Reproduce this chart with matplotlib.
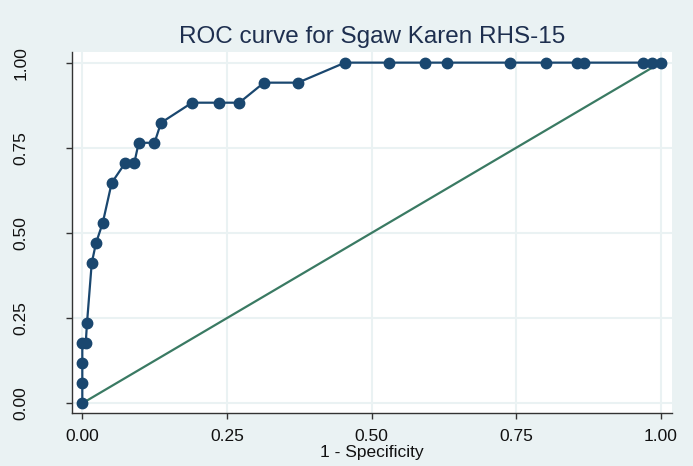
import matplotlib.pyplot as plt

# ROC points (17 positives -> steps of 1/17 in sensitivity)
fpr = [0.0, 0.0, 0.0, 0.0, 0.0059, 0.0081, 0.0163, 0.0237, 0.0353, 0.0508,
       0.0743, 0.0899, 0.0975, 0.1248, 0.1361, 0.1897, 0.2369, 0.2714, 0.3141,
       0.3729, 0.4542, 0.5308, 0.5925, 0.6309, 0.7395, 0.8017, 0.8558, 0.8669,
       0.9689, 0.9844, 1.0]
tpr = [0.0, 0.0588, 0.1176, 0.1765, 0.1765, 0.2353, 0.4118, 0.4706, 0.5294,
       0.6471, 0.7059, 0.7059, 0.7647, 0.7647, 0.8235, 0.8824, 0.8824, 0.8824,
       0.9412, 0.9412, 1.0, 1.0, 1.0, 1.0, 1.0, 1.0, 1.0, 1.0, 1.0, 1.0, 1.0]
ref_x = [0.0, 1.0]
ref_y = [0.0, 1.0]
ticks = [0.0, 0.25, 0.5, 0.75, 1.0]
tick_labels = ['0.00', '0.25', '0.50', '0.75', '1.00']

plt.rcParams['font.family'] = ['Liberation Sans', 'DejaVu Sans']

bg = '#eaf2f3'
navy = '#1a476f'
green = '#3a7a63'

fig = plt.figure(figsize=(6.93, 4.66), dpi=100, facecolor=bg)
ax = fig.add_axes([0.1035, 0.1131, 0.8658, 0.7759])
ax.set_facecolor('white')

ax.plot(ref_x, ref_y, color=green, lw=1.6, zorder=2)
ax.plot(fpr, tpr, color=navy, lw=1.6, marker='o', markersize=7.5, zorder=3)

ax.set_xlim(-0.0183, 1.019)
ax.set_ylim(-0.0294, 1.032)
ax.set_xticks(ticks)
ax.set_xticklabels(tick_labels)
ax.set_yticks(ticks)
ax.set_yticklabels(tick_labels, rotation=90, va='center')
ax.grid(True, color=bg, lw=1.5, zorder=0)
ax.set_axisbelow(True)

for side in ['top', 'right']:
    ax.spines[side].set_visible(False)
for side in ['left', 'bottom']:
    ax.spines[side].set_color('#333333')
    ax.spines[side].set_linewidth(1.0)

ax.tick_params(axis='x', length=4, width=1, color='#333333', labelsize=12.5,
               labelcolor='#111111', pad=7)
ax.tick_params(axis='y', length=4, width=1, color='#333333', labelsize=12.5,
               labelcolor='#111111', pad=27)

ax.set_xlabel('1 - Specificity', fontsize=12.5, color='#111111', labelpad=1)
ax.set_title('ROC curve for Sgaw Karen RHS-15', fontsize=17.5, color='#1e2f4f', pad=6)

fig.savefig('out.png', dpi=100, facecolor=bg)
